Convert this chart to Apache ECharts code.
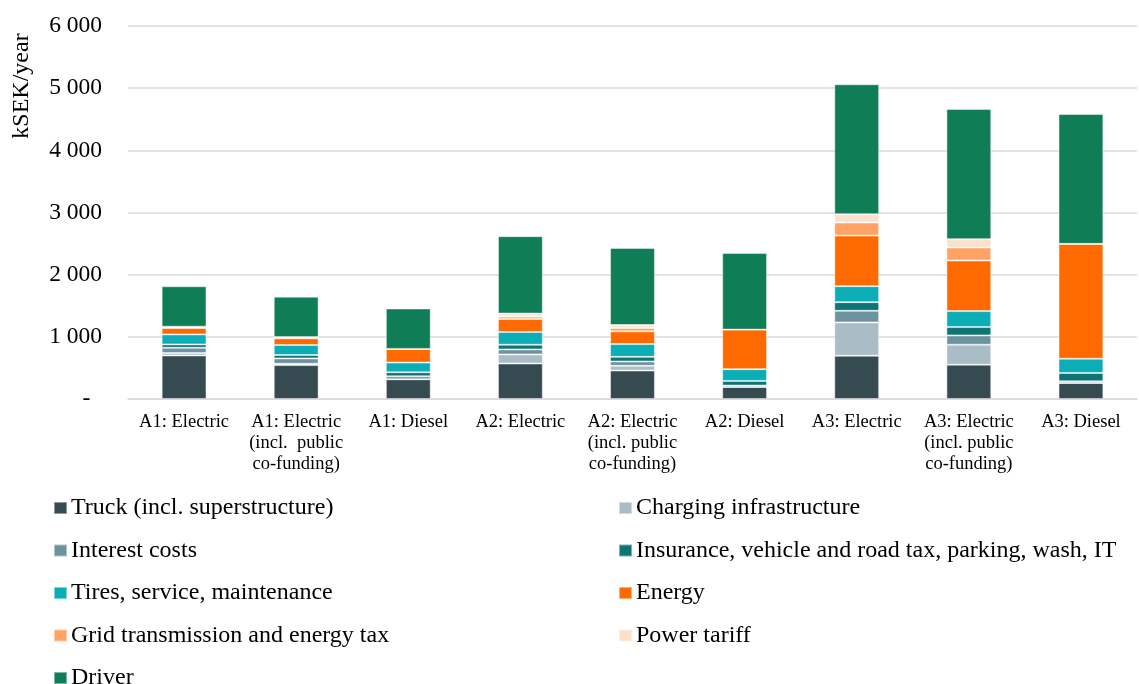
<!DOCTYPE html>
<html>
<head>
<meta charset="utf-8">
<script src="https://cdn.jsdelivr.net/npm/echarts@6/dist/echarts.min.js"></script>
<style>
  html, body { margin: 0; padding: 0; background: #fff; }
  #main { width: 1139px; height: 684px; }
</style>
</head>
<body>
<div id="main"></div>
<script>
// scenarios on the x axis
var categories = [
  'A1: Electric', 'A1: Electric\n(incl.  public\nco-funding)', 'A1: Diesel',
  'A2: Electric', 'A2: Electric\n(incl. public\nco-funding)', 'A2: Diesel',
  'A3: Electric', 'A3: Electric\n(incl. public\nco-funding)', 'A3: Diesel'
];

// kSEK/year per cost item
var truck      = [700, 545, 317, 571, 458, 194, 696, 552, 257];
var charging   = [38, 22, 0, 146, 75, 0, 536, 321, 0];
var interest   = [86, 86, 48, 81, 70, 22, 187, 150, 27];
var insurance  = [54, 54, 65, 75, 75, 75, 139, 134, 134];
var tires      = [161, 161, 156, 205, 205, 189, 257, 257, 230];
var energy     = [102, 108, 220, 210, 205, 636, 814, 814, 1848];
var gridTax    = [14, 12, 0, 38, 54, 0, 209, 209, 0];
var powerTariff= [8, 8, 0, 48, 48, 0, 134, 134, 0];
var driver     = [650, 650, 650, 1245, 1240, 1234, 2090, 2095, 2088];

var yTicks = { min: 0, max: 6000, interval: 1000 };

var names = [
  'Truck (incl. superstructure)', 'Charging infrastructure',
  'Interest costs', 'Insurance, vehicle and road tax, parking, wash, IT',
  'Tires, service, maintenance', 'Energy',
  'Grid transmission and energy tax', 'Power tariff',
  'Driver'
];
var values = [truck, charging, interest, insurance, tires, energy, gridTax, powerTariff, driver];
var colors = ['#364a51', '#aabcc5', '#6e93a0', '#0e7474', '#0badb6', '#ff6a00', '#ffa264', '#fde0cc', '#0f7d56'];

var chart = echarts.init(document.getElementById('main'));

var serif = '"Liberation Serif", "Times New Roman", serif';

var series = names.map(function (n, i) {
  return {
    name: n,
    type: 'bar',
    stack: 'total',
    barWidth: '40%',
    data: values[i],
    itemStyle: {
      color: colors[i],
      borderColor: 'rgba(255,255,255,0.45)',
      borderWidth: 1
    }
  };
});

// legend columns share one look
function legendCol(left, top, data) {
  return {
    orient: 'vertical',
    left: left,
    top: top,
    padding: 0,
    data: data,
    icon: 'rect',
    itemWidth: 13,
    itemHeight: 12,
    itemGap: 18.5,
    textStyle: { fontFamily: serif, fontSize: 24, color: '#000', padding: [0, 0, 0, -1] },
    selectedMode: false
  };
}

var option = {
  animation: false,
  color: colors,
  grid: { left: 128, right: 2, top: 26, bottom: 285 },
  legend: [
    legendCol(53, 496, [names[0], names[2], names[4], names[6]]),
    legendCol(618, 496, [names[1], names[3], names[5], names[7]]),
    legendCol(53, 666, [names[8]])
  ],
  graphic: [{
    type: 'text',
    x: 22,
    y: 86,
    rotation: Math.PI / 2,
    style: {
      text: 'kSEK/year',
      font: '24px ' + serif,
      fill: '#000',
      align: 'center',
      verticalAlign: 'middle'
    }
  }],
  xAxis: {
    type: 'category',
    data: categories,
    axisTick: { show: false },
    axisLine: { lineStyle: { color: '#d9d9d9', width: 1.5 } },
    axisLabel: {
      interval: 0,
      margin: 13,
      color: '#000',
      fontFamily: serif,
      fontSize: 18.5,
      lineHeight: 21
    }
  },
  yAxis: {
    type: 'value',
    min: yTicks.min,
    max: yTicks.max,
    interval: yTicks.interval,
    axisLine: { show: false },
    axisTick: { show: false },
    splitLine: { lineStyle: { color: '#d9d9d9', width: 1.5 } },
    axisLabel: {
      margin: 26,
      color: '#000',
      fontFamily: serif,
      fontSize: 23.5,
      formatter: function (v) {
        if (v === 0) return '-  ';
        var s = String(v);
        return s.replace(/\B(?=(\d{3})+(?!\d))/g, ' ');
      }
    }
  },
  series: series
};

chart.setOption(option);
</script>
</body>
</html>
